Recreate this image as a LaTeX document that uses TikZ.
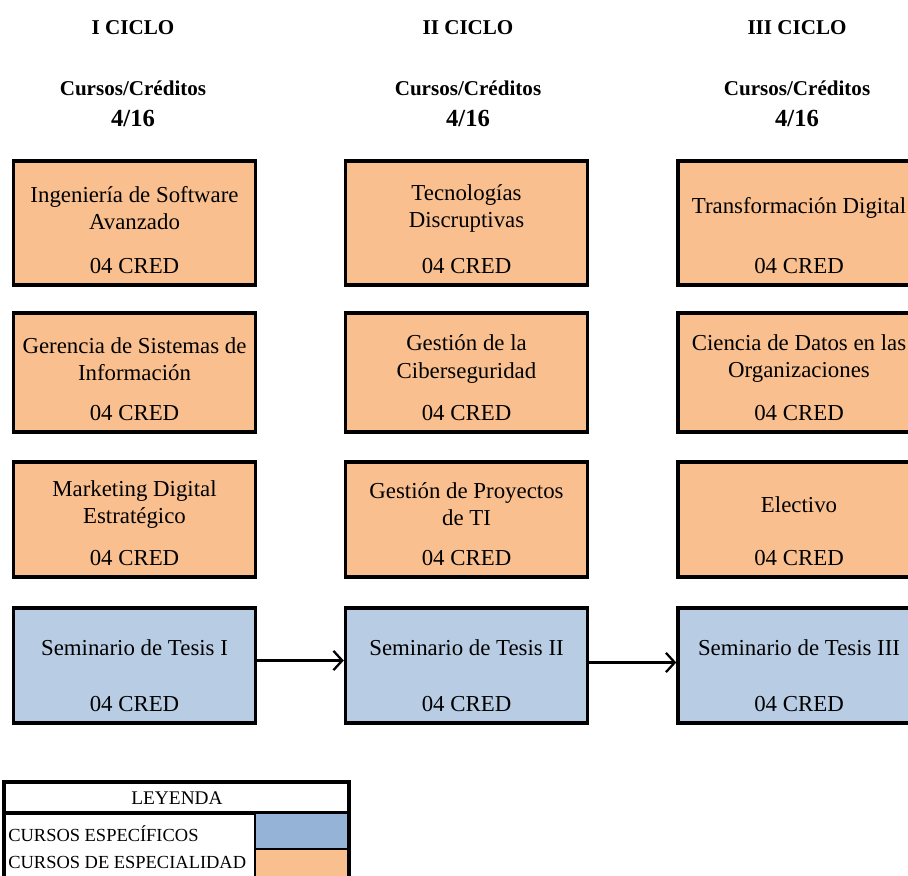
\documentclass[tikz,border=0pt]{standalone}
\usepackage{fontspec}
\setmainfont{Liberation Serif}
\usetikzlibrary{positioning,calc,arrows.meta}
\usepackage{xcolor}

\definecolor{orcurso}{RGB}{249,191,143}
\definecolor{blcurso}{RGB}{184,204,228}
\definecolor{blley}{RGB}{149,179,215}
\definecolor{orley}{RGB}{250,191,143}

\tikzset{
    curso/.style={draw, line width=2pt, minimum width=4.84cm, inner sep=0pt},
    espec/.style={curso, fill=orcurso},
    semin/.style={curso, fill=blcurso},
    titulo/.style={align=center, inner sep=0pt, font=\fontsize{13}{15.4}\selectfont},
    cred/.style={inner sep=0pt, font=\fontsize{13}{15}\selectfont},
    ciclo/.style={font=\bfseries\fontsize{12}{14}\selectfont},
    cuenta/.style={font=\bfseries\fontsize{14}{16}\selectfont},
    muestra/.style={draw, line width=0.6pt, minimum width=1.86cm, inner sep=0pt},
    ley/.style={inner sep=0pt, font=\fontsize{10.5}{12}\selectfont},
    flecha/.style={-{Straight Barb[length=5pt,width=11pt,line width=1.3pt]}, line width=1.3pt}
}

\begin{document}
\begin{tikzpicture}[x=0.02cm, y=-0.02cm]

    \useasboundingbox (0,0) rectangle (908,875);
    \clip (0,0) rectangle (908,875);

    %headers
    \node[ciclo] (c1) at (133,28) {I CICLO};
    \node[ciclo] (c2) at (468,28) {II CICLO};
    \node[ciclo] (c3) at (797,28) {III CICLO};

    \foreach \x/\n in {133/1,468/2,797/3} {
        \node[ciclo] (cc\n) at (\x,88) {Cursos/Créditos};
        \node[cuenta] (cn\n) at (\x,118) {4/16};
    }

    %boxes, I ciclo
    \node[espec, minimum height=2.48cm] (a1) at (134.5,223) {};
    \node[espec, minimum height=2.38cm] (a2) at (134.5,372.5) {};
    \node[espec, minimum height=2.30cm] (a3) at (134.5,519.5) {};
    \node[semin, minimum height=2.30cm] (s1) at (134.5,665.5) {};

    %boxes, II ciclo
    \node[espec, minimum height=2.48cm] (b1) at (466.5,223) {};
    \node[espec, minimum height=2.38cm] (b2) at (466.5,372.5) {};
    \node[espec, minimum height=2.30cm] (b3) at (466.5,519.5) {};
    \node[semin, minimum height=2.30cm] (s2) at (466.5,665.5) {};

    %boxes, III ciclo
    \node[espec, minimum height=2.48cm] (d1) at (799,223) {};
    \node[espec, minimum height=2.38cm] (d2) at (799,372.5) {};
    \node[espec, minimum height=2.30cm] (d3) at (799,519.5) {};
    \node[semin, minimum height=2.30cm] (s3) at (799,665.5) {};

    %course names
    \node[titulo] (ta1) at (134.5,208.5) {Ingeniería de Software\\Avanzado};
    \node[titulo] (ta2) at (134.5,359) {Gerencia de Sistemas de\\Información};
    \node[titulo] (ta3) at (134.5,504.5) {Marketing Digital\\Estratégico};
    \node[titulo] (ts1) at (134.5,648) {Seminario de Tesis I};

    \node[titulo] (tb1) at (466.5,208.5) {Tecnologías\\Discruptivas};
    \node[titulo] (tb2) at (466.5,359) {Gestión de la\\Ciberseguridad};
    \node[titulo] (tb3) at (466.5,504.5) {Gestión de Proyectos\\de TI};
    \node[titulo] (ts2) at (466.5,648) {Seminario de Tesis II};

    \node[titulo] (td1) at (799,208) {Transformación Digital};
    \node[titulo] (td2) at (799,359) {Ciencia de Datos en las\\Organizaciones};
    \node[titulo] (td3) at (799,505) {Electivo};
    \node[titulo] (ts3) at (799,648) {Seminario de Tesis III};

    %credits
    \foreach \b in {a1,a2,a3,s1,b1,b2,b3,s2,d1,d2,d3,s3}
        \node[cred] at ([yshift=0.42cm]\b.south) {04 CRED};

    %arrows
    \draw[flecha] ([yshift=0.1cm]s1.east) -- ([yshift=0.1cm]s2.west);
    \draw[flecha] ([yshift=0.06cm]s2.east) -- ([yshift=0.06cm]s3.west);

    %legend
    \draw[line width=2pt, fill=white] (4,782) rectangle (349,890);
    \draw[line width=2pt] (4,813) -- (349,813);
    \node[ley, font=\fontsize{11}{13}\selectfont] (ley) at (177,798) {LEYENDA};
    \node[muestra, fill=blley, minimum height=0.72cm] (m1) at (301.5,831) {};
    \node[muestra, fill=orley, minimum height=0.82cm] (m2) at (301.5,869.5) {};
    \node[ley, anchor=west] (l1) at (8,834) {CURSOS ESPECÍFICOS};
    \node[ley, anchor=west] (l2) at (8,862) {CURSOS DE ESPECIALIDAD};

\end{tikzpicture}
\end{document}
